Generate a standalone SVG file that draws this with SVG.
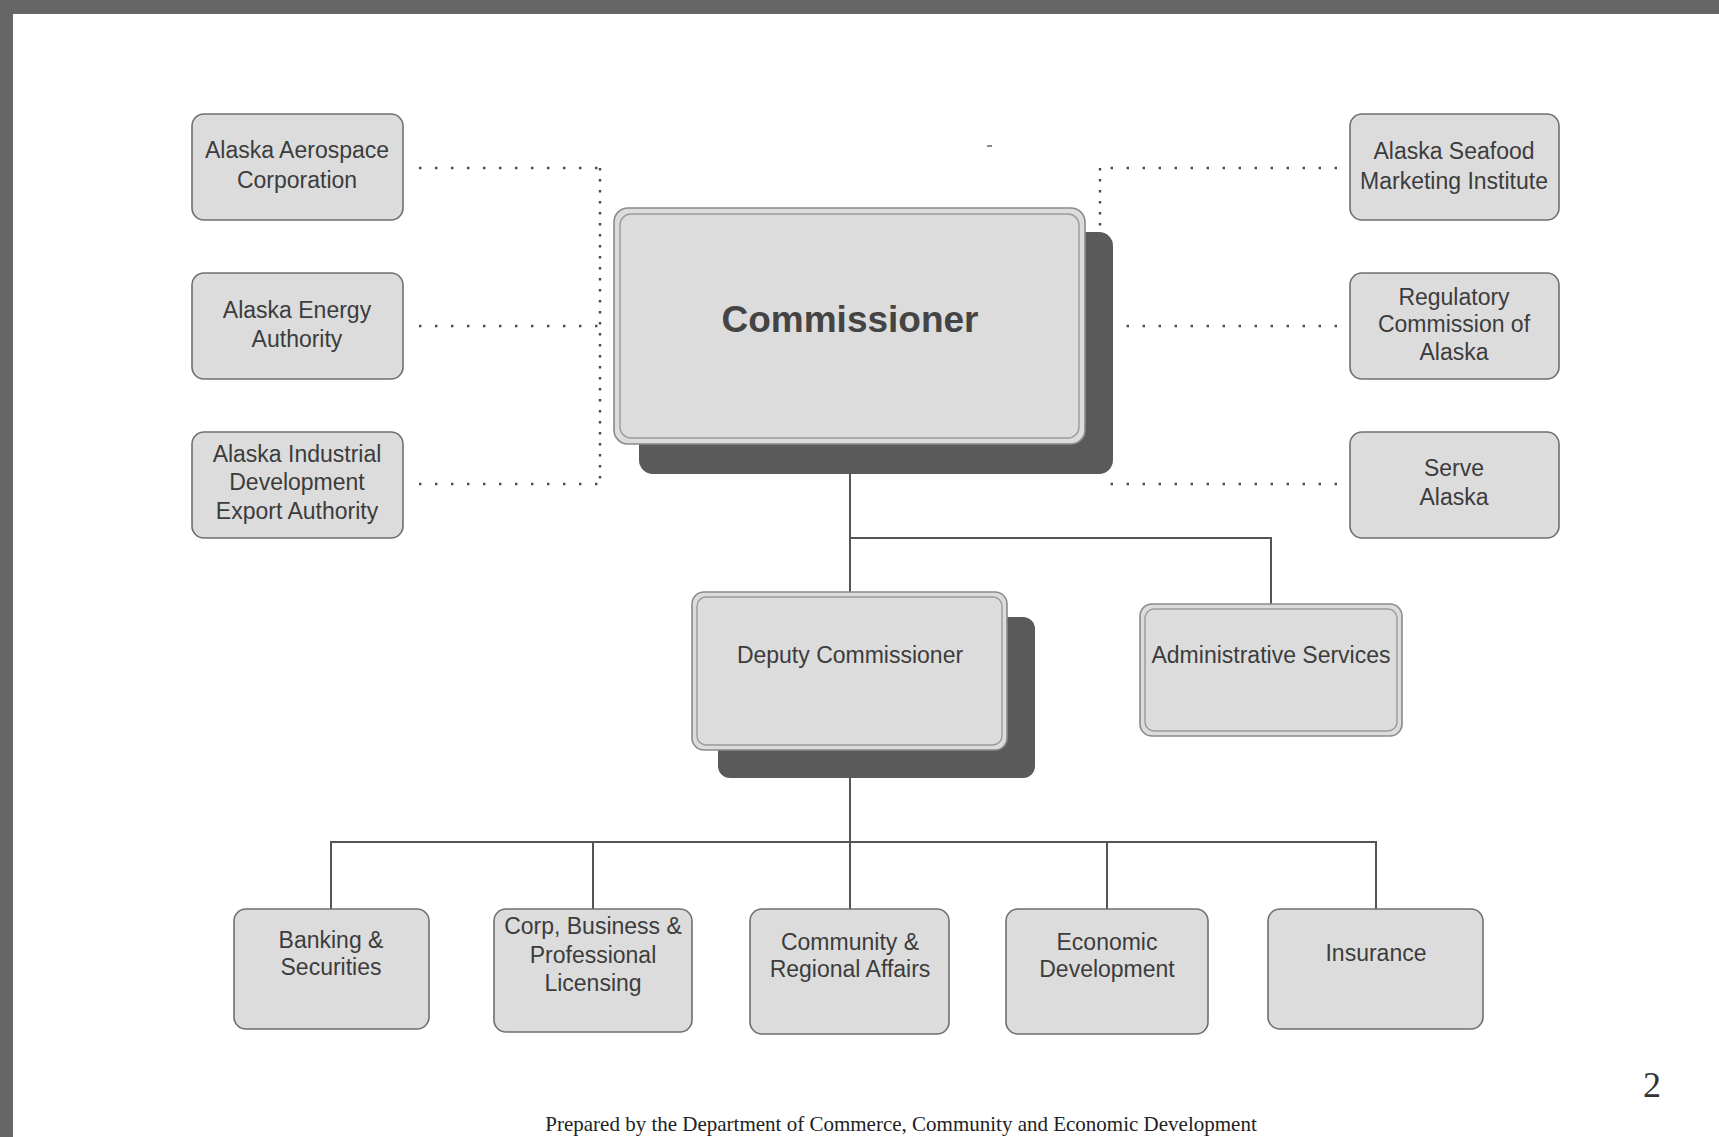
<svg xmlns="http://www.w3.org/2000/svg" width="1719" height="1137" viewBox="0 0 1719 1137">
<style>
.box{fill:#dcdcdc;stroke:#6f6f6f;stroke-width:1.6}
.rim{fill:#dcdcdc;stroke:#8a8a8a;stroke-width:1.6}
.inner{fill:none;stroke:#9a9a9a;stroke-width:1.4}
.shadow{fill:#5a5a5a}
.t{font-family:"Liberation Sans",Arial,sans-serif;font-size:23px;fill:#3c3c3c;text-anchor:middle}
.big{font-family:"Liberation Sans",Arial,sans-serif;font-size:37px;font-weight:bold;fill:#444;text-anchor:middle}
.solid{fill:none;stroke:#555;stroke-width:2}
.dot{fill:none;stroke:#4a4a4a;stroke-width:2.4;stroke-dasharray:2.4 13.6}
.dotv{fill:none;stroke:#4a4a4a;stroke-width:2.4;stroke-dasharray:2.4 8.6}
</style>
<rect width="1719" height="1137" fill="#ffffff"/>
<rect x="0" y="0" width="1719" height="14" fill="#666"/>
<rect x="0" y="0" width="13" height="1137" fill="#666"/>

<g id="connectors">
<path class="dot" d="M419 168 H600"/>
<path class="dot" d="M419 326 H600"/>
<path class="dot" d="M419 484 H600"/>
<path class="dotv" d="M600 168 V484"/>
<path class="dot" d="M1337 168 H1102"/>
<path class="dotv" d="M1100 168 V230"/>
<path class="dot" d="M1337 326 H1120"/>
<path class="dot" d="M1337 484 H1105"/>
<path class="solid" d="M850 474 V592"/>
<path class="solid" d="M850 538 H1271 V604"/>
<path class="solid" d="M850 778 V909"/>
<path class="solid" d="M331 909 V842 H1376 V909"/>
<path class="solid" d="M593 842 V909"/>
<path class="solid" d="M1107 842 V909"/>
</g>

<g id="commissioner">
<rect class="shadow" x="639" y="232" width="474" height="242" rx="14"/>
<rect class="rim" x="614" y="208" width="471" height="236" rx="14"/>
<rect class="inner" x="620" y="214" width="459" height="224" rx="11"/>
<text class="big" x="850" y="332">Commissioner</text>
</g>

<g id="aerospace">
<rect class="box" x="192" y="114" width="211" height="106" rx="12"/>
<text class="t" x="297" y="158">Alaska Aerospace</text>
<text class="t" x="297" y="188">Corporation</text>
</g>
<g id="energy">
<rect class="box" x="192" y="273" width="211" height="106" rx="12"/>
<text class="t" x="297" y="318">Alaska Energy</text>
<text class="t" x="297" y="347">Authority</text>
</g>
<g id="aidea">
<rect class="box" x="192" y="432" width="211" height="106" rx="12"/>
<text class="t" x="297" y="462">Alaska Industrial</text>
<text class="t" x="297" y="490">Development</text>
<text class="t" x="297" y="519">Export Authority</text>
</g>

<g id="seafood">
<rect class="box" x="1350" y="114" width="209" height="106" rx="12"/>
<text class="t" x="1454" y="159">Alaska Seafood</text>
<text class="t" x="1454" y="189">Marketing Institute</text>
</g>
<g id="rca">
<rect class="box" x="1350" y="273" width="209" height="106" rx="12"/>
<text class="t" x="1454" y="305">Regulatory</text>
<text class="t" x="1454" y="332">Commission of</text>
<text class="t" x="1454" y="360">Alaska</text>
</g>
<g id="serve">
<rect class="box" x="1350" y="432" width="209" height="106" rx="12"/>
<text class="t" x="1454" y="476">Serve</text>
<text class="t" x="1454" y="505">Alaska</text>
</g>

<g id="deputy">
<rect class="shadow" x="718" y="617" width="317" height="161" rx="12"/>
<rect class="rim" x="692" y="592" width="315" height="158" rx="12"/>
<rect class="inner" x="697" y="597" width="305" height="148" rx="9"/>
<text class="t" x="850" y="663">Deputy Commissioner</text>
</g>

<g id="admin">
<rect class="rim" x="1140" y="604" width="262" height="132" rx="12"/>
<rect class="inner" x="1145" y="609" width="252" height="122" rx="9"/>
<text class="t" x="1271" y="663">Administrative Services</text>
</g>

<g id="banking">
<rect class="box" x="234" y="909" width="195" height="120" rx="12"/>
<text class="t" x="331" y="948">Banking &amp;</text>
<text class="t" x="331" y="975">Securities</text>
</g>
<g id="corp">
<rect class="box" x="494" y="909" width="198" height="123" rx="12"/>
<text class="t" x="593" y="934">Corp, Business &amp;</text>
<text class="t" x="593" y="963">Professional</text>
<text class="t" x="593" y="991">Licensing</text>
</g>
<g id="community">
<rect class="box" x="750" y="909" width="199" height="125" rx="12"/>
<text class="t" x="850" y="950">Community &amp;</text>
<text class="t" x="850" y="977">Regional Affairs</text>
</g>
<g id="economic">
<rect class="box" x="1006" y="909" width="202" height="125" rx="12"/>
<text class="t" x="1107" y="950">Economic</text>
<text class="t" x="1107" y="977">Development</text>
</g>
<g id="insurance">
<rect class="box" x="1268" y="909" width="215" height="120" rx="12"/>
<text class="t" x="1376" y="961">Insurance</text>
</g>

<rect x="987" y="145" width="5" height="2" fill="#888"/>
<text x="1652" y="1097" font-family="'Liberation Serif','Times New Roman',serif" font-size="36" fill="#333" text-anchor="middle">2</text>
<text x="901" y="1131" font-family="'Liberation Serif','Times New Roman',serif" font-size="21" fill="#222" text-anchor="middle">Prepared by the Department of Commerce, Community and Economic Development</text>
</svg>
